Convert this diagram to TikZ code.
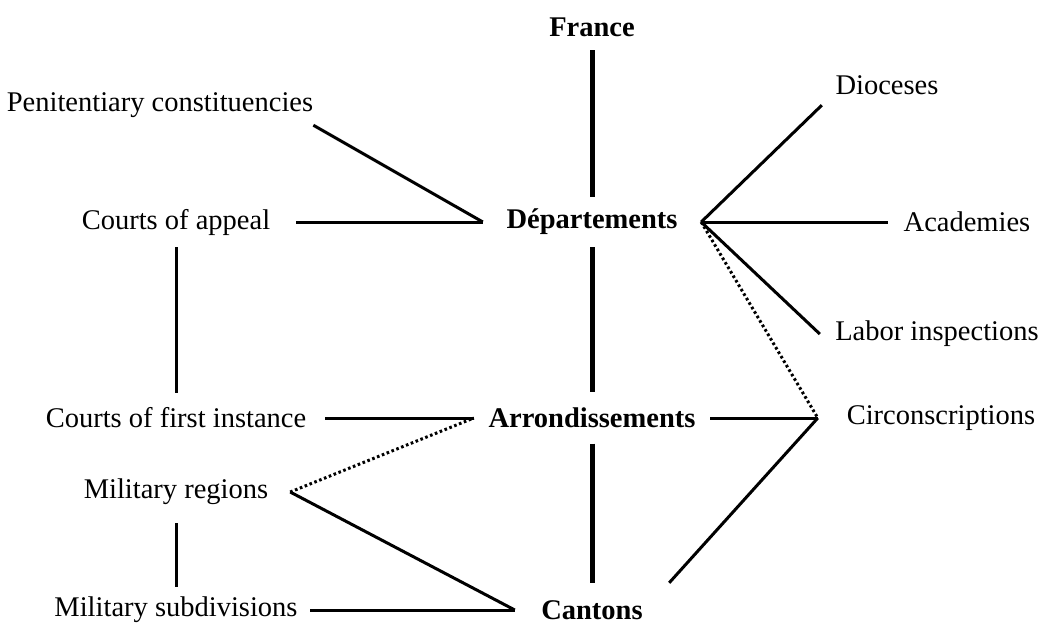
\documentclass[tikz,border=0pt]{standalone}
\usepackage{fontspec}
\setmainfont{Liberation Serif}
\begin{document}
\begin{tikzpicture}[x=1pt,y=-1pt,font=\fontsize{28.5}{32}\selectfont,
  unit/.style={inner sep=0pt,minimum width=#1},
  main/.style={line width=5pt},
  link/.style={line width=3pt},
  weak/.style={line width=3pt,dash pattern=on 2.6pt off 2.6pt}]
\useasboundingbox(0,0)rectangle(1041,627);
% levels
\node[unit=60,minimum height=46](france)at(592,27){\textbf{France}};
\node[unit=218,minimum height=50](dep)at(592,222){\textbf{Départements}};
\node[unit=236,minimum height=51](arr)at(592,418){\textbf{Arrondissements}};
\node[unit=154,minimum height=54](cant)at(592,610){\textbf{Cantons}};
% left side
\node[unit=304,minimum height=40](pen)at(160,105){Penitentiary constituencies};
\node[unit=240,minimum height=50](appeal)at(176,222){Courts of appeal};
\node[unit=298,minimum height=50](first)at(176,418){Courts of first instance};
\node[unit=228,minimum height=62](milreg)at(176,492){Military regions};
\node[unit=268,minimum height=46](milsub)at(176,610){Military subdivisions};
% right side
\node[unit=130,minimum height=40](dio)at(887,85){Dioceses};
\node[unit=158](acad)at(967,222){Academies};
\node[unit=234](labor)at(937,334){Labor inspections};
\node[unit=246](circ)at(941,418){Circonscriptions};
% connectors
\draw[main](france.south)--(dep.north);
\draw[main](dep.south)--(arr.north);
\draw[main](arr.south)--(cant.north);
\draw[link](pen.south east)--(dep.west);
\draw[link](appeal.east)--(dep.west);
\draw[link](appeal.south)--(first.north);
\draw[link](first.east)--(arr.west);
\draw[link](milreg.south)--(milsub.north);
\draw[link](milsub.east)--(cant.west);
\draw[link](milreg.east)--(cant.west);
\draw[weak](milreg.east)--(arr.west);
\draw[link](dep.east)--(dio.south west);
\draw[link](dep.east)--(acad.west);
\draw[link](dep.east)--(labor.west);
\draw[weak](dep.east)--(circ.west);
\draw[link](arr.east)--(circ.west);
\draw[link](circ.west)--(cant.north east);
\end{tikzpicture}
\end{document}
